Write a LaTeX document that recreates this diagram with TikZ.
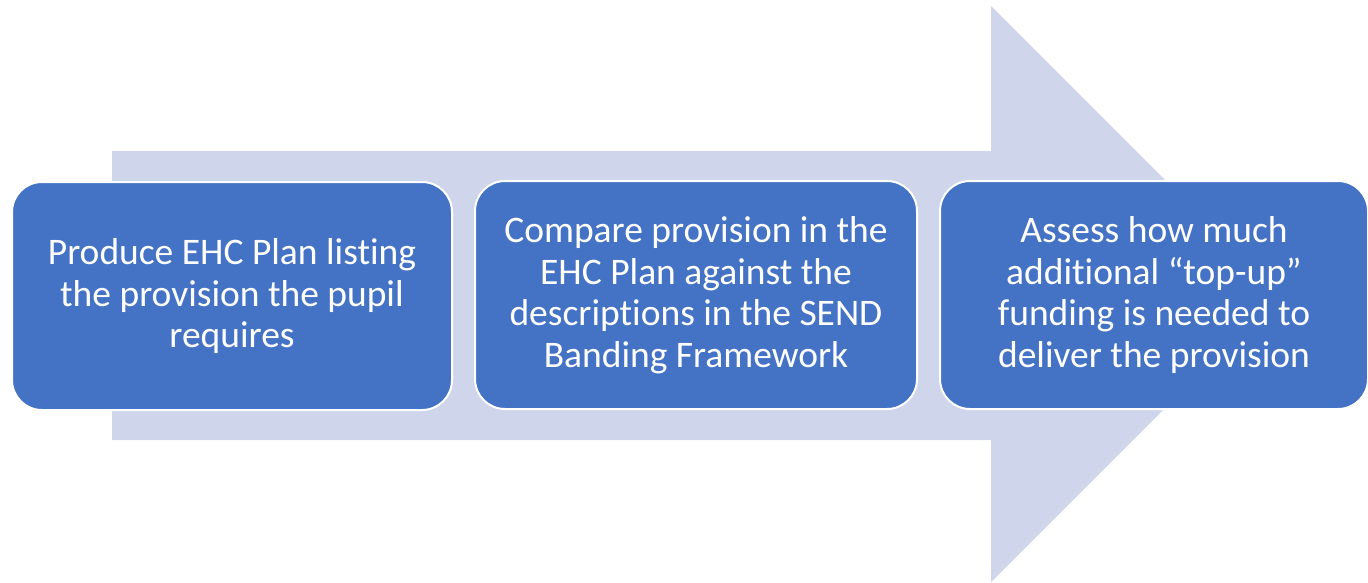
\documentclass[tikz,border=0pt]{standalone}
\usepackage{fontspec}
\setmainfont{Carlito}[Ligatures=NoCommon]
\definecolor{boxblue}{HTML}{4472C4}
\definecolor{arrowfill}{HTML}{CFD5EA}
\begin{document}
\begin{tikzpicture}[x=1pt,y=-1pt,
  stepbox/.style={draw=white,line width=2pt,fill=boxblue,rounded corners=30pt,
    text=white,align=center,inner sep=0pt,minimum height=228pt,
    font=\fontsize{37.5}{41.5}\selectfont}]
\useasboundingbox (0,0) rectangle (1368,582);
\fill[arrowfill] (112,151) -- (991,151) -- (991,6) -- (1279,294) -- (991,582) -- (991,440) -- (112,440) -- cycle;
\node[stepbox,minimum width=440pt] (s1) at (232,296) {Produce EHC Plan listing\\the provision the pupil\\requires};
\node[stepbox,minimum width=442pt] (s2) at (696,295) {Compare provision in the\\EHC Plan against the\\descriptions in the SEND\\Banding Framework};
\node[stepbox,minimum width=428pt] (s3) at (1154,295) {Assess how much\\additional “top-up”\\funding is needed to\\deliver the provision};
\end{tikzpicture}
\end{document}
